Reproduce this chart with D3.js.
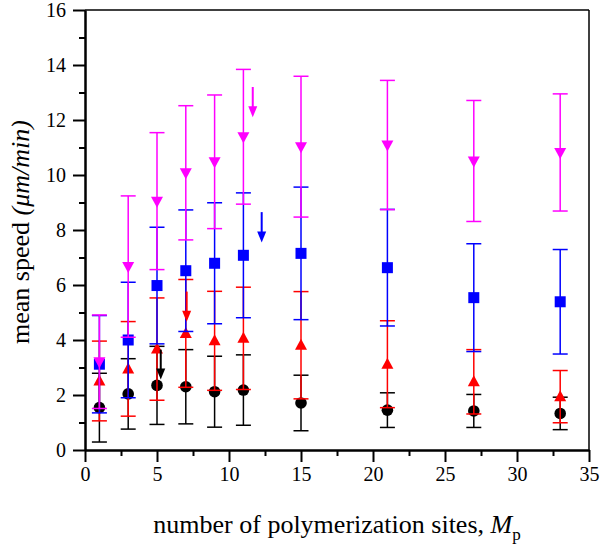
<!DOCTYPE html>
<html><head><meta charset="utf-8">
<script src="https://cdn.jsdelivr.net/npm/d3@7"></script>
<style>body{margin:0;background:#fff}svg{display:block}</style>
</head><body>
<svg id="c" width="600" height="549"></svg>
<script>
const xVals = [1,3,5,7,9,11,15,21,27,33];
const blackMean = [1.54,2.04,2.35,2.30,2.12,2.18,1.71,1.45,1.42,1.33];
const blackErr  = [1.25,1.28,1.42,1.35,1.29,1.28,1.01,0.63,0.60,0.59];
const redMean   = [2.51,2.95,3.67,4.24,3.97,4.06,3.81,3.12,2.48,1.94];
const redErr    = [1.45,1.72,1.86,1.96,1.80,1.86,1.95,1.58,1.17,0.95];
const blueMean  = [3.12,4.00,5.98,6.52,6.79,7.08,7.15,6.63,5.54,5.39];
const blueErr   = [1.77,2.10,2.12,2.21,2.20,2.27,2.41,2.12,1.96,1.90];
const magMean   = [3.21,6.67,9.05,10.08,10.48,11.39,11.03,11.09,10.51,10.82];
const magErr    = [1.70,2.57,2.49,2.44,2.43,2.45,2.56,2.35,2.20,2.13];
// arrows: x, yStart, yEnd (data units)
const arrowX     = [5.26, 7.06, 12.27, 11.65];
const arrowY0    = [3.65, 5.76, 8.65, 13.2];
const arrowY1    = [2.56, 4.66, 7.55, 12.1];
const arrowColor = ["#000000","#ff0000","#0000ff","#ff00ff"];
const xTicks = [0,5,10,15,20,25,30,35];
const yTicks = [0,2,4,6,8,10,12,14,16];

const svg = d3.select("#c");
const x = d3.scaleLinear().domain([0,35]).range([85,589]);
const y = d3.scaleLinear().domain([0,16]).range([450,10]);
const font = "'Liberation Serif','Times New Roman',serif";

const series = [
  {mean:blackMean, err:blackErr, color:"#000000", shape:"circle"},
  {mean:redMean, err:redErr, color:"#ff0000", shape:"up"},
  {mean:blueMean, err:blueErr, color:"#0000ff", shape:"square"},
  {mean:magMean, err:magErr, color:"#ff00ff", shape:"down"}
];

const cap = 7.5;
series.forEach(s => {
  const g = svg.append("g");
  const d = xVals.map((xv,i)=>({x:xv, m:s.mean[i], e:s.err[i]}));
  g.selectAll("line.v").data(d).enter().append("line")
    .attr("x1",p=>x(p.x)).attr("x2",p=>x(p.x))
    .attr("y1",p=>y(p.m-p.e)).attr("y2",p=>y(p.m+p.e))
    .attr("stroke",s.color).attr("stroke-width",1.5);
  ["lo","hi"].forEach(k=>{
    g.selectAll("line."+k).data(d).enter().append("line")
      .attr("x1",p=>x(p.x)-cap).attr("x2",p=>x(p.x)+cap)
      .attr("y1",p=>y(k==="lo"?p.m-p.e:p.m+p.e)).attr("y2",p=>y(k==="lo"?p.m-p.e:p.m+p.e))
      .attr("stroke",s.color).attr("stroke-width",1.5);
  });
  d.forEach(p=>{
    const cx=x(p.x), cy=y(p.m);
    if(s.shape==="circle") g.append("circle").attr("cx",cx).attr("cy",cy).attr("r",5.8).attr("fill",s.color);
    else if(s.shape==="square") g.append("rect").attr("x",cx-5.5).attr("y",cy-5.5).attr("width",11).attr("height",11).attr("fill",s.color);
    else if(s.shape==="up") g.append("path").attr("d",`M${cx-6},${cy+4.5}L${cx+6},${cy+4.5}L${cx},${cy-6.5}Z`).attr("fill",s.color);
    else g.append("path").attr("d",`M${cx-6},${cy-4.5}L${cx+6},${cy-4.5}L${cx},${cy+6.5}Z`).attr("fill",s.color);
  });
});

// arrows
arrowX.forEach((ax,i)=>{
  const px=x(ax), y0=y(arrowY0[i]), y1=y(arrowY1[i]);
  svg.append("line").attr("x1",px).attr("x2",px).attr("y1",y0).attr("y2",y1-8)
    .attr("stroke",arrowColor[i]).attr("stroke-width",2);
  svg.append("path").attr("d",`M${px-4.5},${y1-11}L${px+4.5},${y1-11}L${px},${y1}Z`).attr("fill",arrowColor[i]);
});

// frame
svg.append("line").attr("x1",x(0)).attr("x2",x(35)).attr("y1",y(16)).attr("y2",y(16)).attr("stroke","#000").attr("stroke-width",1.5);
svg.append("line").attr("x1",x(35)).attr("x2",x(35)).attr("y1",y(0)).attr("y2",y(16)).attr("stroke","#000").attr("stroke-width",1.5);

// axes
const xAxis = d3.axisBottom(x).tickValues(xTicks).tickSize(12).tickPadding(5).tickSizeOuter(0);
const xMinor = d3.axisBottom(x).tickValues(d3.range(2.5,35,5)).tickSize(6).tickFormat("").tickSizeOuter(0);
const gx = svg.append("g").attr("transform",`translate(0,${y(0)})`).call(xAxis);
const gxm = svg.append("g").attr("transform",`translate(0,${y(0)})`).call(xMinor);
const yAxis = d3.axisLeft(y).tickValues(yTicks).tickSize(12).tickPadding(7).tickSizeOuter(0);
const yMinor = d3.axisLeft(y).tickValues(d3.range(1,16,2)).tickSize(6).tickFormat("").tickSizeOuter(0);
const gy = svg.append("g").attr("transform",`translate(${x(0)},0)`).call(yAxis);
const gym = svg.append("g").attr("transform",`translate(${x(0)},0)`).call(yMinor);
[gx,gxm,gy,gym].forEach(g=>{
  g.select(".domain").attr("stroke","#000").attr("stroke-width",2);
  g.selectAll(".tick line").attr("stroke","#000").attr("stroke-width",2);
  g.selectAll("text").attr("font-family",font).attr("font-size",20).attr("fill","#000");
});

// titles
const xt = svg.append("text").attr("x",337).attr("y",533).attr("text-anchor","middle")
  .attr("font-family",font).attr("font-size",26).attr("fill","#000");
xt.append("tspan").text("number of polymerization sites, ");
xt.append("tspan").attr("font-style","italic").text("M");
xt.append("tspan").attr("font-size",17).attr("dy",7).text("p");

const yt = svg.append("text").attr("transform","translate(29,232) rotate(-90)").attr("text-anchor","middle")
  .attr("font-family",font).attr("font-size",26).attr("fill","#000");
yt.append("tspan").text("mean speed ");
yt.append("tspan").attr("font-style","italic").text("(μm/min)");
</script>
</body></html>
